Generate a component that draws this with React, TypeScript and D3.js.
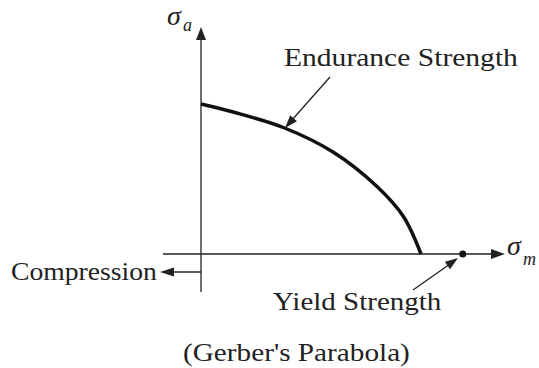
import React from 'react';
import * as d3 from 'd3';

// Gerber curve (normalised: Se = 1, Sut = 1)
const meanStress = [0, 0.15, 0.38, 0.6, 0.8, 0.92, 1.0];
const altStress = [1, 0.945, 0.84, 0.68, 0.45, 0.25, 0];
const yieldStrength = [1.19];
const axisSymbol = 'σ';
const axisSubs = ['a', 'm'];
const labels = ['Endurance Strength', 'Yield Strength', 'Compression', "(Gerber's Parabola)"];

const INK = '#222';

function head(tip: [number, number], from: [number, number], len: number, half: number) {
  const dx = tip[0] - from[0];
  const dy = tip[1] - from[1];
  const d = Math.hypot(dx, dy);
  const ux = dx / d, uy = dy / d;
  const bx = tip[0] - ux * len, by = tip[1] - uy * len;
  const px = -uy * half, py = ux * half;
  return `M${tip[0]},${tip[1]}L${bx + px},${by + py}L${bx - px},${by - py}Z`;
}

function WideText({ x, y, sx, children }: { x: number; y: number; sx: number; children: string }) {
  return (
    <text x={0} y={0} transform={`translate(${x},${y}) scale(${sx},1)`}
      fontFamily="Liberation Serif" fontSize={26} fill={INK}>{children}</text>
  );
}

export default function App() {
  const W = 539, H = 368;
  const x = d3.scaleLinear().domain([0, 1]).range([201, 421]);
  const y = d3.scaleLinear().domain([0, 1]).range([254, 104]);

  const pts: [number, number][] = meanStress.map((m, i) => [m, altStress[i]]);
  const line = d3.line<[number, number]>()
    .x(d => x(d[0]))
    .y(d => y(d[1]))
    .curve(d3.curveCatmullRom.alpha(0.5));

  const x0 = x(0), y0 = y(0);
  const xTip = 505, yTip = 27;
  const yieldX = x(yieldStrength[0]);

  const endFrom: [number, number] = [330, 77];
  const endTip: [number, number] = [285, 128];
  const yFrom: [number, number] = [413, 290];
  const yTipPt: [number, number] = [458, 258];
  const cFrom: [number, number] = [x0, 272];
  const cTip: [number, number] = [160, 272];

  return (
    <svg width={W} height={H} fontFamily="Liberation Serif"
      style={{ position: 'absolute', left: 0, top: 0 }}>
      <line x1={163} y1={y0} x2={xTip - 8} y2={y0} stroke={INK} strokeWidth={1.3} />
      <path d={head([xTip, y0], [163, y0], 14, 5)} fill={INK} />
      <line x1={x0} y1={292} x2={x0} y2={yTip + 8} stroke={INK} strokeWidth={1.3} />
      <path d={head([x0, yTip], [x0, 292], 13, 5)} fill={INK} />

      <text x={167} y={25} fontFamily="Liberation Serif" fontStyle="italic" fontSize={28} fill={INK}>{axisSymbol}</text>
      <text x={183} y={31} fontFamily="Liberation Serif" fontStyle="italic" fontSize={18} fill={INK}>{axisSubs[0]}</text>
      <text x={507} y={255} fontFamily="Liberation Serif" fontStyle="italic" fontSize={28} fill={INK}>{axisSymbol}</text>
      <text x={523} y={265} fontFamily="Liberation Serif" fontStyle="italic" fontSize={18} fill={INK}>{axisSubs[1]}</text>

      <path d={line(pts) || ''} fill="none" stroke="#111" strokeWidth={3.5} />

      <circle cx={yieldX} cy={y0} r={3.5} fill="#111" />

      <line x1={endFrom[0]} y1={endFrom[1]} x2={endTip[0] + 7} y2={endTip[1] - 8} stroke={INK} strokeWidth={1.3} />
      <path d={head(endTip, endFrom, 13, 4.5)} fill={INK} />
      <WideText x={284} y={66} sx={1.137}>{labels[0]}</WideText>

      <line x1={yFrom[0]} y1={yFrom[1]} x2={yTipPt[0] - 8} y2={yTipPt[1] + 6} stroke={INK} strokeWidth={1.3} />
      <path d={head(yTipPt, yFrom, 13, 4.5)} fill={INK} />
      <WideText x={273} y={310} sx={1.116}>{labels[1]}</WideText>

      <line x1={cFrom[0]} y1={cFrom[1]} x2={cTip[0] + 8} y2={cTip[1]} stroke={INK} strokeWidth={1.3} />
      <path d={head(cTip, cFrom, 14, 4.5)} fill={INK} />
      <WideText x={11} y={280} sx={1.064}>{labels[2]}</WideText>

      <WideText x={183} y={361} sx={1.125}>{labels[3]}</WideText>
    </svg>
  );
}
